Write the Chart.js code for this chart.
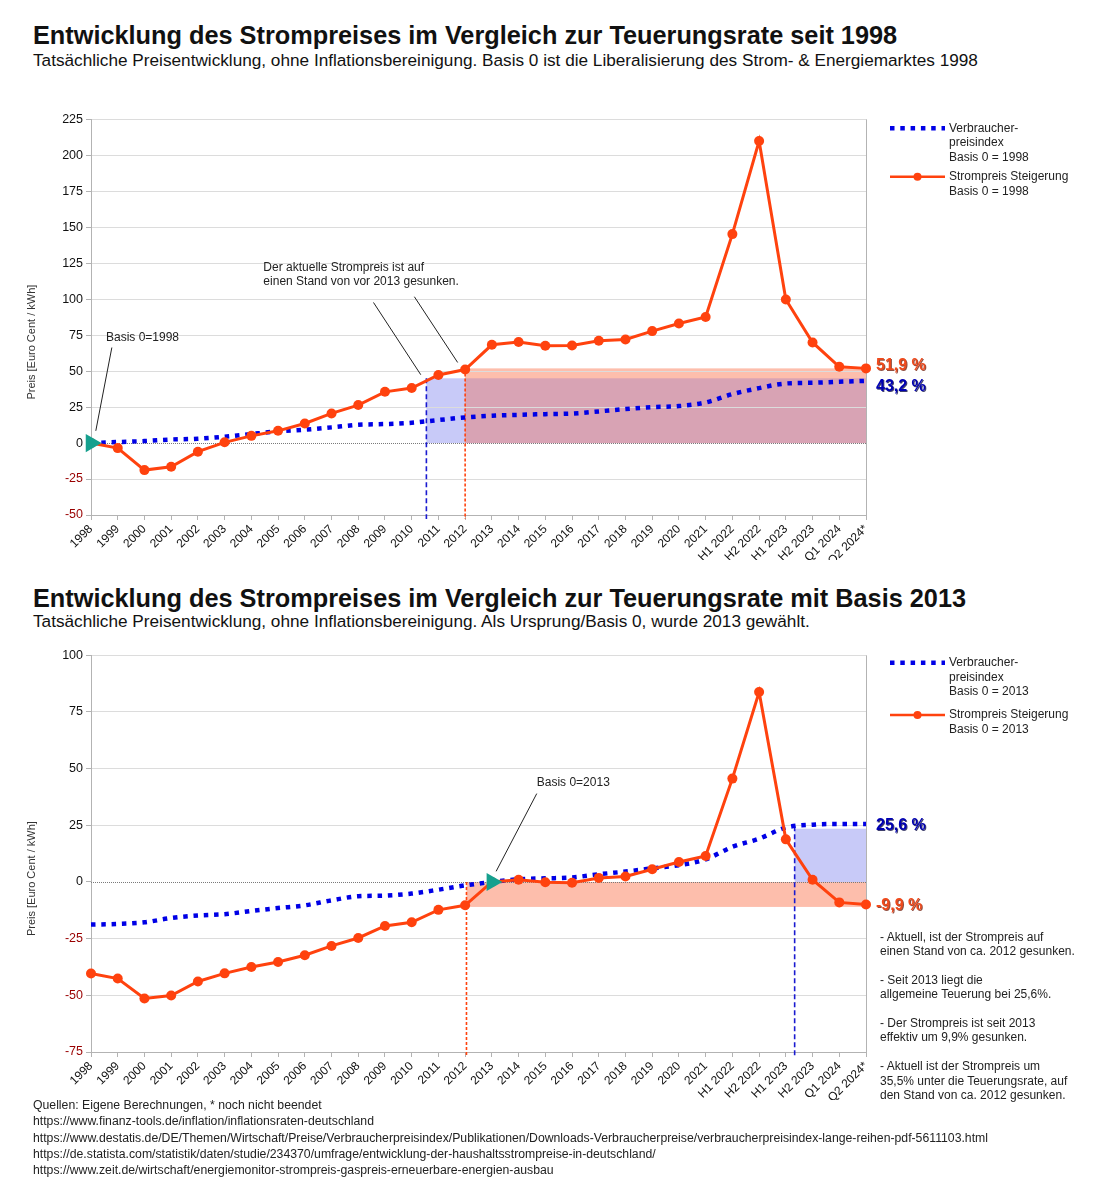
<!DOCTYPE html>
<html>
<head>
<meta charset="utf-8">
<script src="https://cdn.jsdelivr.net/npm/chart.js@4"></script>
<style>
body { margin: 0; background: #fff; width: 1104px; height: 1200px; position: relative; overflow: hidden;
       font-family: 'Liberation Sans', Arial, sans-serif; color: #111; }
.title { position: absolute; left: 33px; font-size: 25.3px; line-height: 25px; font-weight: bold; white-space: nowrap; }
.sub { position: absolute; left: 33px; font-size: 17.2px; line-height: 17px; white-space: nowrap; }
.box { position: absolute; left: 0; width: 1104px; height: 460px; }
#notes { position: absolute; left: 880px; top: 929.5px; font-size: 12px; line-height: 14.4px; color: #222; white-space: nowrap; }
#src { position: absolute; left: 33px; top: 1097px; font-size: 12px; line-height: 16.3px; color: #222; white-space: pre; transform-origin: 0 0; display: inline-block; }
</style>
</head>
<body>
<div class="title" style="top:23px">Entwicklung des Strompreises im Vergleich zur Teuerungsrate seit 1998</div>
<div class="sub" style="top:52px">Tatsächliche Preisentwicklung, ohne Inflationsbereinigung. Basis 0 ist die Liberalisierung des Strom- &amp; Energiemarktes 1998</div>
<div class="box" style="top:100px"><canvas id="c1" width="1104" height="460"></canvas></div>

<div class="title" style="top:586px">Entwicklung des Strompreises im Vergleich zur Teuerungsrate mit Basis 2013</div>
<div class="sub" style="top:613px">Tatsächliche Preisentwicklung, ohne Inflationsbereinigung. Als Ursprung/Basis 0, wurde 2013 gewählt.</div>
<div class="box" style="top:640px"><canvas id="c2" width="1104" height="460"></canvas></div>

<div id="notes">- Aktuell, ist der Strompreis auf<br>einen Stand von ca. 2012 gesunken.<br><br>- Seit 2013 liegt die<br>allgemeine Teuerung bei 25,6%.<br><br>- Der Strompreis ist seit 2013<br>effektiv um 9,9% gesunken.<br><br>- Aktuell ist der Strompreis um<br>35,5% unter die Teuerungsrate, auf<br>den Stand von ca. 2012 gesunken.</div>

<div id="src">Quellen: Eigene Berechnungen, * noch nicht beendet
https://www.finanz-tools.de/inflation/inflationsraten-deutschland
https://www.destatis.de/DE/Themen/Wirtschaft/Preise/Verbraucherpreisindex/Publikationen/Downloads-Verbraucherpreise/verbraucherpreisindex-lange-reihen-pdf-5611103.html
https://de.statista.com/statistik/daten/studie/234370/umfrage/entwicklung-der-haushaltsstrompreise-in-deutschland/
https://www.zeit.de/wirtschaft/energiemonitor-strompreis-gaspreis-erneuerbare-energien-ausbau</div>

<script>
// Data
const CATS = ['1998','1999','2000','2001','2002','2003','2004','2005','2006','2007','2008','2009','2010',
    '2011','2012','2013','2014','2015','2016','2017','2018','2019','2020','2021',
    'H1 2022','H2 2022','H1 2023','H2 2023','Q1 2024','Q2 2024*'];

// Basis 1998
const strom1998 = [0,-3.5,-18.8,-16.5,-6,0.5,5,8.5,13.6,20.6,26.4,35.6,38.2,47.3,51.1,
    68.3,70.2,67.6,67.8,71.1,72,77.8,83.1,87.6,145.2,209.9,99.8,69.9,53,51.9];
const vpi1998 = [0,0.7,1.4,2.5,3,4.4,6.3,8.1,9.3,10.9,12.7,13.2,14.1,16,17.8,
    19,19.6,20.1,20.5,22,23.6,25,25.7,28.2,34,38.2,41.4,41.9,42.6,43.2];

// Basis 2013
const strom2013 = [-40.4,-42.6,-51.4,-50.1,-43.9,-40.3,-37.5,-35.3,-32.3,-28.2,-24.7,-19.4,-17.8,-12.3,-10.3,
    0,1,-0.1,-0.3,1.8,2.4,5.6,8.8,11.5,45.6,83.8,18.8,1,-9,-9.9];
const vpi2013 = [-18.8,-18.5,-17.8,-15.9,-14.8,-14.2,-12.8,-11.5,-10.3,-8.1,-6.3,-6,-5.1,-3.4,-1.5,
    0,1.2,1.6,2,3.4,4.6,6,7.4,10,15.5,19.1,24,25.3,25.6,25.6];

const yTicks1 = { min: -50, max: 225, step: 25 };
const yTicks2 = { min: -75, max: 100, step: 25 };

// Colors
const FONT = "'Liberation Sans', Arial, sans-serif";
const ORANGE = '#ff420e';
const BLUE = '#0000e6';
const TEAL = '#16a08e';
const LAVENDER = 'rgb(200,202,248)';
const SALMON = 'rgb(253,190,172)';
const MAUVE = 'rgb(216,163,180)';
const NEG = '#990000';
const BORDER = '#b3b3b3';

function drawText(ctx, lines, x, y, lh) {
    lines.forEach((l, i) => ctx.fillText(l, x, y + i * lh));
}

function makeExtras(cfg) {
    return {
        id: 'extras',
        beforeDraw(chart) {
            const ctx = chart.ctx, a = chart.chartArea, xs = chart.scales.x, ys = chart.scales.y;
            const box = r => ({ l: xs.getPixelForValue(r.from), r: a.right,
                t: ys.getPixelForValue(r.top), b: ys.getPixelForValue(r.bottom) });
            const b = box(cfg.blueRect), s = box(cfg.redRect);
            ctx.save();
            ctx.fillStyle = LAVENDER;
            ctx.fillRect(b.l, b.t, b.r - b.l, b.b - b.t);
            ctx.fillStyle = SALMON;
            ctx.fillRect(s.l, s.t, s.r - s.l, s.b - s.t);
            // overlap
            const l = Math.max(b.l, s.l), t = Math.max(b.t, s.t), bb = Math.min(b.b, s.b);
            if (bb > t) {
                ctx.fillStyle = MAUVE;
                ctx.fillRect(l, t, a.right - l, bb - t);
            }
            ctx.restore();
        },
        beforeDatasetsDraw(chart) {
            const ctx = chart.ctx, a = chart.chartArea, xs = chart.scales.x, ys = chart.scales.y;
            ctx.save();
            // zero line
            const y0 = Math.round(ys.getPixelForValue(0)) + 0.5;
            ctx.strokeStyle = '#7a7a7a';
            ctx.lineWidth = 1;
            ctx.setLineDash([1, 1]);
            ctx.beginPath(); ctx.moveTo(a.left, y0); ctx.lineTo(a.right, y0); ctx.stroke();
            // right border
            ctx.setLineDash([]);
            ctx.strokeStyle = BORDER;
            ctx.beginPath(); ctx.moveTo(a.right + 0.5, a.top); ctx.lineTo(a.right + 0.5, a.bottom); ctx.stroke();
            // vertical markers
            cfg.vlines.forEach(v => {
                const px = xs.getPixelForValue(v.at);
                ctx.strokeStyle = v.color;
                ctx.lineWidth = 1.6;
                ctx.setLineDash(v.dash);
                ctx.beginPath(); ctx.moveTo(px, ys.getPixelForValue(v.top)); ctx.lineTo(px, a.bottom + 4); ctx.stroke();
            });
            ctx.restore();
        },
        afterDraw(chart) {
            const ctx = chart.ctx, a = chart.chartArea, xs = chart.scales.x, ys = chart.scales.y;
            ctx.save();
            // y title
            ctx.save();
            ctx.translate(32, (a.top + a.bottom) / 2 + 25);
            ctx.rotate(-Math.PI / 2);
            ctx.font = `11px ${FONT}`;
            ctx.fillStyle = '#333';
            ctx.textAlign = 'center';
            ctx.textBaseline = 'middle';
            ctx.fillText('Preis [Euro Cent / kWh]', 0, 0);
            ctx.restore();

            // annotations
            ctx.strokeStyle = '#222';
            ctx.lineWidth = 1;
            cfg.leaders.forEach(l => {
                ctx.beginPath();
                ctx.moveTo(xs.getPixelForValue(l[0]), ys.getPixelForValue(l[1]));
                ctx.lineTo(xs.getPixelForValue(l[2]), ys.getPixelForValue(l[3]));
                ctx.stroke();
            });
            ctx.font = `12px ${FONT}`;
            ctx.fillStyle = '#222';
            ctx.textBaseline = 'middle';
            ctx.textAlign = 'left';
            cfg.notes.forEach(n => drawText(ctx, n.lines, xs.getPixelForValue(n.idx), ys.getPixelForValue(n.val), 14));

            // end labels
            ctx.font = `bold 16px ${FONT}`;
            ctx.shadowOffsetX = 1; ctx.shadowOffsetY = 1; ctx.shadowBlur = 0;
            cfg.endLabels.forEach(e => {
                ctx.shadowColor = e.shadow;
                ctx.fillStyle = e.color;
                ctx.fillText(e.text, a.right + 10, ys.getPixelForValue(e.val));
            });
            ctx.shadowColor = 'rgba(0,0,0,0)';

            // legend
            const x0 = a.right + 24, x1 = a.right + 79, tx = a.right + 83;
            let y = a.top + cfg.legendY[0];
            ctx.strokeStyle = BLUE; ctx.lineWidth = 4.5; ctx.setLineDash([4.5, 5.8]);
            ctx.beginPath(); ctx.moveTo(x0, y); ctx.lineTo(x1, y); ctx.stroke();
            ctx.setLineDash([]);
            ctx.font = `12px ${FONT}`;
            ctx.fillStyle = '#222';
            drawText(ctx, ['Verbraucher-', 'preisindex', 'Basis 0 = ' + cfg.year], tx, y, 14.5);
            y = a.top + cfg.legendY[1];
            ctx.strokeStyle = ORANGE; ctx.lineWidth = 2.5;
            ctx.beginPath(); ctx.moveTo(x0, y); ctx.lineTo(x1, y); ctx.stroke();
            ctx.fillStyle = ORANGE;
            ctx.beginPath(); ctx.arc((x0 + x1) / 2, y, 4, 0, Math.PI * 2); ctx.fill();
            ctx.fillStyle = '#222';
            drawText(ctx, ['Strompreis Steigerung', 'Basis 0 = ' + cfg.year], tx, y, 14.5);
            ctx.restore();
        }
    };
}

function makeChart(id, cfg) {
    const ctx = document.getElementById(id);
    return new Chart(ctx, {
        type: 'line',
        data: {
            labels: CATS,
            datasets: [
                {
                    label: 'Basis',
                    data: CATS.map((_, i) => i === cfg.baseIdx ? 0 : null),
                    showLine: false,
                    pointStyle: 'triangle',
                    rotation: 90,
                    pointRadius: 10.5,
                    pointBackgroundColor: TEAL,
                    pointBorderWidth: 0,
                    order: 0,
                    clip: false
                },
                {
                    label: 'Strompreis Steigerung',
                    data: cfg.strom,
                    borderColor: ORANGE,
                    backgroundColor: ORANGE,
                    borderWidth: 3,
                    pointRadius: 5,
                    pointBorderWidth: 0,
                    pointBackgroundColor: ORANGE,
                    tension: 0,
                    order: 1,
                    clip: false
                },
                {
                    label: 'Verbraucherpreisindex',
                    data: cfg.vpi,
                    borderColor: BLUE,
                    borderWidth: 4.5,
                    borderDash: [4.5, 5.8],
                    borderCapStyle: 'butt',
                    pointRadius: 0,
                    cubicInterpolationMode: 'monotone',
                    order: 2,
                    clip: false
                }
            ]
        },
        options: {
            responsive: false,
            animation: false,
            layout: { padding: { left: 0, right: 238, top: cfg.padTop, bottom: 0 } },
            plugins: { legend: { display: false }, tooltip: { enabled: false } },
            scales: {
                x: {
                    grid: { drawOnChartArea: false, tickLength: 5, color: BORDER },
                    border: { color: BORDER },
                    ticks: {
                        autoSkip: false, minRotation: 45, maxRotation: 45, padding: 2,
                        color: '#111', font: { family: FONT, size: 12 }
                    },
                    afterFit: s => { s.height = cfg.xAxisH; }
                },
                y: {
                    min: cfg.y.min, max: cfg.y.max,
                    ticks: {
                        stepSize: cfg.y.step, padding: 3,
                        color: c => c.tick.value < 0 ? NEG : '#111',
                        font: { family: FONT, size: 12.5 }
                    },
                    grid: {
                        color: c => c.tick && c.tick.value === 0 ? 'rgba(0,0,0,0)' : '#dcdcdc',
                        tickLength: 5, tickColor: BORDER
                    },
                    border: { color: BORDER },
                    afterFit: s => { s.width = 91; }
                }
            }
        },
        plugins: [makeExtras(cfg)]
    });
}

makeChart('c1', {
    strom: strom1998, vpi: vpi1998, y: yTicks1, baseIdx: 0, year: '1998',
    padTop: 19.3, xAxisH: 45,
    blueRect: { from: 12.55, top: 45, bottom: 0 },
    redRect: { from: 14, top: 51.9, bottom: 0 },
    vlines: [
        { at: 12.55, top: 45, color: '#1a1ad0', dash: [5, 3] },
        { at: 14, top: 51.9, color: ORANGE, dash: [3, 2] }
    ],
    leaders: [[0.78, 66.4, 0.18, 8.5], [10.57, 97.7, 12.34, 47.5], [12.1, 101.7, 13.72, 56]],
    notes: [
        { lines: ['Basis 0=1998'], idx: 0.56, val: 73.4 },
        { lines: ['Der aktuelle Strompreis ist auf', 'einen Stand von vor 2013 gesunken.'], idx: 6.45, val: 121.6 }
    ],
    endLabels: [
        { text: '51,9 %', val: 53.6, color: '#f04a1c', shadow: 'rgba(110,20,0,0.75)' },
        { text: '43,2 %', val: 39.3, color: '#0000b4', shadow: 'rgba(0,0,60,0.75)' }
    ],
    legendY: [9, 57.4]
});

makeChart('c2', {
    strom: strom2013, vpi: vpi2013, y: yTicks2, baseIdx: 15, year: '2013',
    padTop: 15.3, xAxisH: 48,
    blueRect: { from: 26.33, top: 23.5, bottom: 0 },
    redRect: { from: 14.05, top: 0, bottom: -11 },
    vlines: [
        { at: 26.33, top: 24.6, color: '#1a1ad0', dash: [5, 3] },
        { at: 14.05, top: 0, color: ORANGE, dash: [3, 2] }
    ],
    leaders: [[16.68, 39, 15.16, 4.7]],
    notes: [
        { lines: ['Basis 0=2013'], idx: 16.68, val: 43.7 }
    ],
    endLabels: [
        { text: '25,6 %', val: 25.0, color: '#0000b4', shadow: 'rgba(0,0,60,0.75)' },
        { text: '-9,9 %', val: -10.3, color: '#f04a1c', shadow: 'rgba(110,20,0,0.75)' }
    ],
    legendY: [7.4, 59.7]
});

// squeeze the sources block to the width it has in the original
const src = document.getElementById('src');
const srcW = src.getBoundingClientRect().width;
src.style.transform = `scaleX(${955 / srcW})`;
</script>
</body>
</html>
